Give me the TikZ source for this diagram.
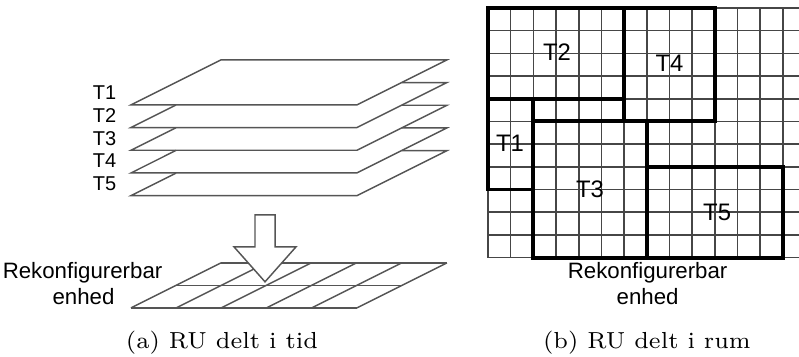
\documentclass[tikz,border=0pt]{standalone}
\usepackage{fontspec}
\setsansfont{Liberation Sans}
\usepackage{tikz}
\usetikzlibrary{calc}
\definecolor{planegray}{RGB}{85,85,85}
\definecolor{cellgray}{RGB}{70,70,70}

\begin{document}
\begin{tikzpicture}[
    plane/.style={draw=planegray, line width=0.45pt},
    cell/.style={draw=cellgray, line width=0.5pt},
    part/.style={draw=black, line width=1.2pt},
    tlabel/.style={font=\sffamily\fontsize{6.2}{7}\selectfont, inner sep=0pt},
    tbig/.style={font=\sffamily\fontsize{7.4}{8}\selectfont, inner sep=0pt},
    unit/.style={font=\sffamily\fontsize{6.9}{8}\selectfont, inner sep=0pt, anchor=base},
    caption/.style={font=\fontsize{7.2}{8.5}\selectfont, inner sep=0pt}
]
    \useasboundingbox (0,0) rectangle (8.71,3.89);

    % (a) stacked planes in time
    \draw[plane] (1.428,2.747) -- ++(2.463,0) -- ++(0.981,0.4905) -- ++(-2.463,0) -- cycle;
    \foreach \i in {2,...,5} {
        \pgfmathsetmacro{\y}{2.747-0.2474*(\i-1)}
        \draw[plane] (1.428,\y) ++(0.4905,0.2453) -- ++(-0.4905,-0.2453) -- ++(2.463,0)
            -- ++(0.981,0.4905) -- ++(-0.4905,0);
    }
    \foreach \i in {1,...,5} {
        \pgfmathsetmacro{\y}{2.747-0.2474*(\i-1)+0.13}
        \node[tlabel, anchor=east] (t\i) at (1.275,\y) {T\i};
    }

    % reconfigurable unit
    \foreach \r in {0,1,2}
        \draw[plane] (1.428+0.4905*\r,0.534+0.24525*\r) -- ++(2.463,0);
    \foreach \c in {0,...,5}
        \draw[plane] (1.428+0.4926*\c,0.534) -- ++(0.981,0.4905);
    \node[unit] (rua) at (0.90,0.850) {Rekonfigurerbar};
    \node[unit] (enha) at (0.91,0.567) {enhed};

    % block arrow
    \draw[plane, fill=white] (2.78,1.548) -- (3.00,1.548) -- (3.00,1.199) -- (3.227,1.199)
        -- (2.889,0.818) -- (2.551,1.199) -- (2.78,1.199) -- cycle;

    \node[caption] (capa) at (2.42,0.153) {(a) RU delt i tid};

    % (b) unit split in space
    \begin{scope}[shift={(5.319,1.082)}, x=0.2474cm, y=0.2474cm]
        \draw[cell, step=0.2474cm] (0,0) grid (13.7,11);
        \draw[part] (0,7) rectangle (6,11);
        \draw[part] (6,6) rectangle (10,11);
        \draw[part] (0,3) rectangle (2,7);
        \draw[part] (2,0) rectangle (7,6);
        \draw[part] (7,0) rectangle (13,4);
        \node[tbig] (p2) at (3.04,9.06) {T2};
        \node[tbig] (p4) at (8.0,8.57) {T4};
        \node[tbig] (p1) at (0.97,5.04) {T1};
        \node[tbig] (p3) at (4.5,3.0) {T3};
        \node[tbig] (p5) at (10.1,2.0) {T5};
    \end{scope}
    \node[unit] (rub) at (7.06,0.850) {Rekonfigurerbar};
    \node[unit] (enhb) at (7.06,0.567) {enhed};

    \node[caption] (capb) at (7.052,0.153) {(b) RU delt i rum};
\end{tikzpicture}
\end{document}
